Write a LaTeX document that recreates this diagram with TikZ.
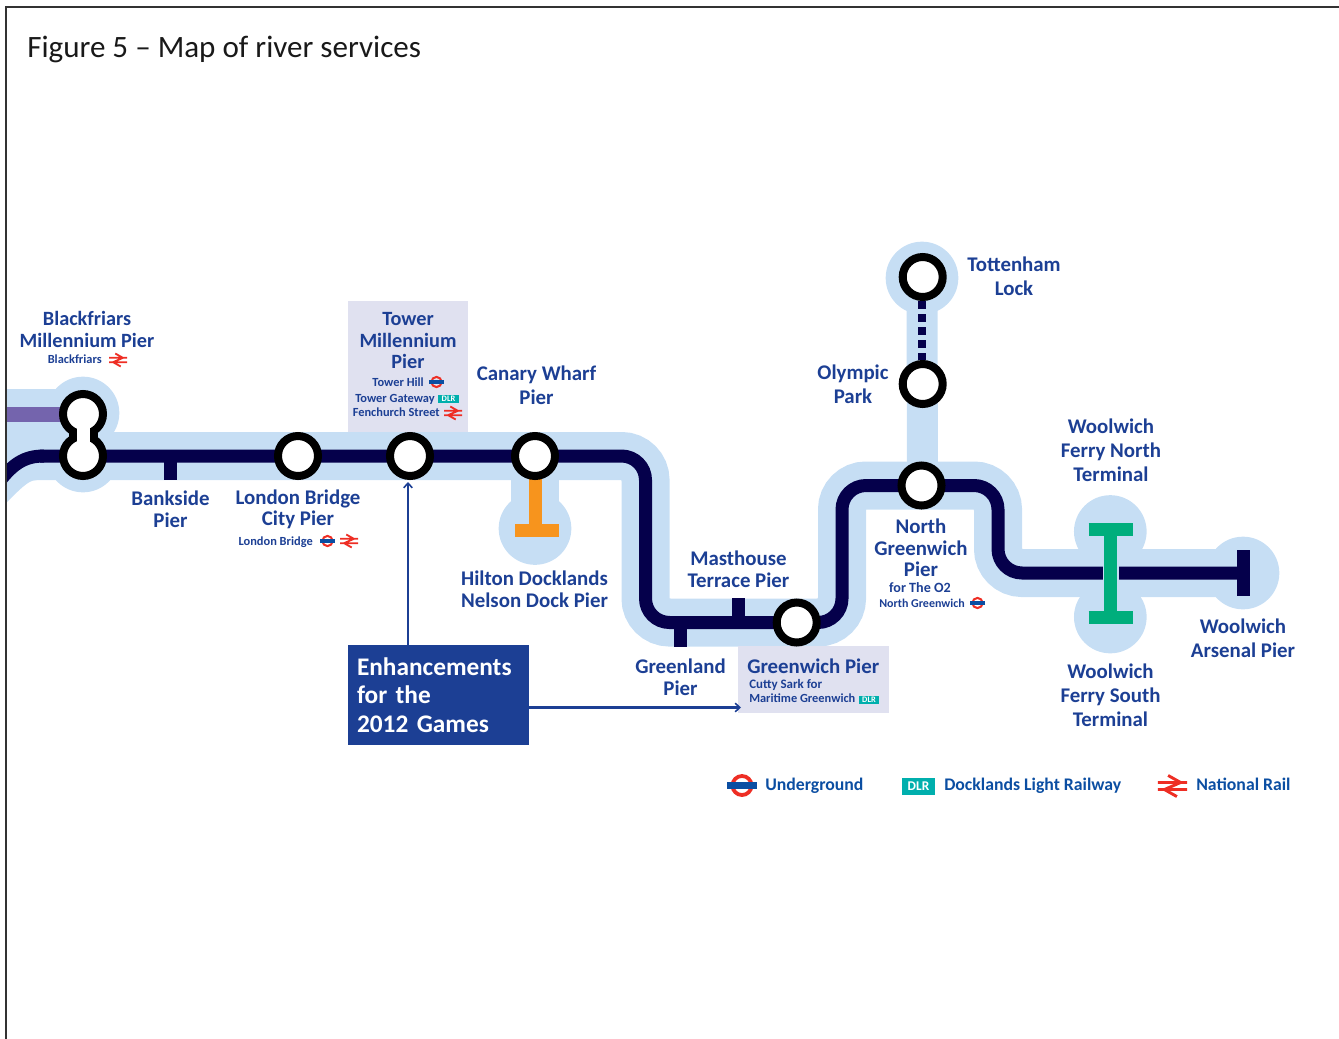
\documentclass[tikz,border=0pt]{standalone}
\usepackage{fontspec}
\setmainfont{Carlito}
\usetikzlibrary{arrows.meta}
\definecolor{pale}{HTML}{C6DEF4}
\definecolor{deep}{HTML}{05004B}
\definecolor{lilac}{HTML}{7464AD}
\definecolor{lav}{HTML}{E0E1F0}
\definecolor{ink}{HTML}{1C3F94}
\definecolor{railred}{HTML}{EE2E24}
\definecolor{tubeblue}{HTML}{0B4EA2}
\definecolor{dlrteal}{HTML}{00AFAD}
\definecolor{amber}{HTML}{F7941D}
\definecolor{jade}{HTML}{00AE7C}
\definecolor{framec}{HTML}{333333}
\tikzset{
  x=0.75pt,y=-0.75pt,
  band/.style={draw=pale,line width=36pt,rounded corners=18pt},
  route/.style={draw=deep,line width=9.75pt,rounded corners=18pt},
  halo/.style={circle,fill=pale,draw=none,minimum size=54.5pt,inner sep=0pt},
  ring/.style={circle,draw=black,fill=white,line width=6pt,minimum size=30pt,inner sep=0pt},
  lavbox/.style={rectangle,fill=lav,inner sep=0pt},
  lab/.style={align=center,text=ink,inner sep=0pt,font=\bfseries\fontsize{15.65}{16.2}\selectfont},
  labm/.style={align=center,text=ink,inner sep=0pt,font=\bfseries\fontsize{15.2}{16.2}\selectfont},
  labw/.style={align=center,text=ink,inner sep=0pt,font=\bfseries\fontsize{15.65}{18}\selectfont},
  sub/.style={text=ink,inner sep=0pt,font=\bfseries\fontsize{9.3}{10}\selectfont},
  leg/.style={text=tubeblue,inner sep=0pt,font=\bfseries\fontsize{13.3}{14}\selectfont},
  dlr/.style={rectangle,fill=dlrteal,text=white,inner sep=0pt,font=\bfseries\fontsize{6.3}{6.5}\selectfont,minimum width=15.5pt,minimum height=6.5pt},
  pointer/.style={draw=ink,line width=1.8pt,-{Straight Barb[length=3.5pt,width=6.5pt,line width=1.2pt]}},
  pics/roundel/.style={code={
    \draw[railred,line width=#1*0.33pt] (0,0) circle[radius=#1*0.83pt];
    \fill[tubeblue] (-#1*1.27pt,-#1*0.29pt) rectangle (#1*1.27pt,#1*0.29pt);
  }},
  pics/railmark/.style={code={
    \draw[railred,line width=#1*0.2pt,line join=miter]
      (-#1*1pt,#1*0.24pt)--(#1*1pt,#1*0.24pt)
      (-#1*1pt,-#1*0.24pt)--(#1*1pt,-#1*0.24pt)
      (-#1*0.3pt,#1*0.72pt)--(#1*0.55pt,#1*0.24pt)--(-#1*0.55pt,-#1*0.24pt)--(#1*0.3pt,-#1*0.72pt);
  }},
}
\begin{document}
\begin{tikzpicture}
\useasboundingbox (0,0) rectangle (1339,1039);
% named positions
\coordinate (bfAc) at (83,414);
\coordinate (bfBc) at (83,456);
\coordinate (bend1) at (645.5,456);
\coordinate (bend2) at (645.5,622.5);
\coordinate (bend3) at (842,622.5);
\coordinate (bend4) at (842,485.5);
\coordinate (bend5) at (998,485.5);
\coordinate (bend6) at (998,573);
\coordinate (arsenal) at (1243,573);
\coordinate (ferry) at (1110.7,573);
% pale bands
\fill[pale] (6,389)--(83,389)--(83,480)--(38,480) .. controls (30,480) and (26,483) .. (6,503)--cycle;
\node[halo] (haloBfA) at (83,413) {};
\node[halo] (haloBfB) at (83,456) {};
\draw[band] (bfBc)--(bend1)--(bend2)--(bend3)--(bend4)--(bend5)--(bend6)--(arsenal);
\node[halo] (haloCanary) at (535,528.5) {};
\draw[pale,line width=36pt] (535,456)--(haloCanary.center);
\node[halo] (haloTott) at (922,278) {};
\draw[pale,line width=23.25pt] (haloTott.center)--(922.5,486);
\node[halo] (haloFerryN) at (1110.3,531.5) {};
\node[halo] (haloFerryS) at (1110.3,617) {};
\node[halo] (haloArsenal) at (arsenal) {};
% lavender panels
\node[lavbox,minimum width=90pt,minimum height=98.25pt] (towerBox) at (408,366.5) {};
\node[lavbox,minimum width=113.25pt,minimum height=50.25pt] (greenwichBox) at (813.5,679.5) {};
% lines
\draw[lilac,line width=11.25pt] (6,414)--(bfAc);
\begin{scope}
\clip (6,400) rectangle (60,520);
\draw[deep,line width=9.75pt] (-4,486) .. controls (12,464) and (24,456) .. (44,456);
\end{scope}
\draw[route] (40,456)--(bend1)--(bend2)--(bend3)--(bend4)--(bend5)--(bend6)--(arsenal);
\draw[deep,line width=9.75pt] (170.5,456)--(170.5,480);
\draw[deep,line width=9.75pt] (738.5,622)--(738.5,598);
\draw[deep,line width=9.75pt] (680.5,622)--(680.5,646.5);
\draw[deep,line width=9.75pt] (1243,550)--(1243,596);
% Hilton T
\draw[amber,line width=9.75pt] (535,456)--(535,537);
\draw[amber,line width=9.75pt] (515,530.5)--(558.5,530.5);
% Woolwich ferry I
\draw[pale,line width=12pt] (1102.7,573)--(1118.7,573);
\draw[jade,line width=9.75pt] (1110.7,523)--(1110.7,624);
\draw[jade,line width=9.75pt] (1088.7,529.3)--(1132.7,529.3);
\draw[jade,line width=9.75pt] (1088.7,617.5)--(1132.7,617.5);
% dotted link
\node[ring] (olympic) at (922.7,384) {};
\node[ring] (tottenham) at (922.7,277) {};
\draw[deep,line width=6pt,dash pattern=on 6pt off 3.75pt,dash phase=0.5pt] (922,360)--(922,296);
% stations
\draw[black,line width=21.75pt] (bfAc)--(bfBc);
\node[ring] (bfA) at (bfAc) {};
\node[ring] (bfB) at (bfBc) {};
\draw[white,line width=9.75pt] (bfAc)--(bfBc);
\node[ring] (londonBridge) at (298,456) {};
\node[ring] (tower) at (410,456) {};
\node[ring] (canary) at (535,456) {};
\node[ring] (greenwich) at (796.7,622.5) {};
\node[ring] (northGreenwich) at (921.5,485.5) {};
% labels
\node[labm] (tBlack) at (87,329.5) {Blackfriars\\Millennium Pier};
\node[sub,anchor=mid east] (sBlack) at (102,360.5) {Blackfriars};
\pic at (118,360) {railmark=6.75};
\node[labm] (tTower) at (408,340.5) {Tower\\Millennium\\Pier};
\node[sub,anchor=mid east] (sHill) at (424,383.5) {Tower Hill};
\pic at (436.5,382) {roundel=4.6};
\node[sub,anchor=mid east] (sGate) at (435,399.5) {Tower Gateway};
\node[dlr] (dGate) at (448.5,399) {DLR};
\node[sub,anchor=mid east] (sFen) at (440,413.5) {Fenchurch Street};
\pic at (453,413) {railmark=6.75};
\node[labw] (tCanary) at (536.5,385) {Canary Wharf\\Pier};
\node[lab] (tBank) at (170.5,509.5) {Bankside\\Pier};
\node[lab] (tBridge) at (298,509.5) {London Bridge\\City Pier};
\node[sub,anchor=mid east] (sBridge) at (313,542.5) {London Bridge};
\pic at (327.5,541) {roundel=4.6};
\pic at (349,541) {railmark=6.75};
\node[lab] (tHilton) at (534.5,589) {Hilton Docklands\\Nelson Dock Pier};
\node[lab] (tMast) at (738.5,569.5) {Masthouse\\Terrace Pier};
\node[lab] (tGreenland) at (680.5,677) {Greenland\\Pier};
\node[lab,anchor=mid west] (tGreenwich) at (747,670) {Greenwich Pier};
\node[sub,anchor=mid west,font=\bfseries\fontsize{9.7}{10}\selectfont] (sCutty) at (749,685) {Cutty Sark for};
\node[sub,anchor=mid west] (sMar) at (749,699) {Maritime Greenwich};
\node[dlr] (dMar) at (869,700) {DLR};
\node[lab] (tNorth) at (921,548) {North\\Greenwich\\Pier};
\node[sub,anchor=mid,font=\bfseries\fontsize{10.6}{11}\selectfont] (sO2) at (920,589) {for The O2};
\node[sub,anchor=mid east,font=\bfseries\fontsize{9}{10}\selectfont] (sNorth) at (965,604) {North Greenwich};
\pic at (977.5,603) {roundel=4.6};
\node[labw] (tTott) at (1014,276) {Tottenham\\Lock};
\node[labw] (tOly) at (853,384) {Olympic\\Park};
\node[labw] (tFerryN) at (1111,450.5) {Woolwich\\Ferry North\\Terminal};
\node[labw] (tFerryS) at (1110.5,695.5) {Woolwich\\Ferry South\\Terminal};
\node[labw] (tArsenal) at (1243,638) {Woolwich\\Arsenal Pier};
% enhancements
\node[rectangle,fill=ink,text=white,inner sep=0pt,inner xsep=6.75pt,text width=122.25pt,minimum height=75pt,align=left,
  font=\bfseries\fontsize{19}{21.4}\selectfont] (enh) at (438.5,695) {Enhancements\\for the\\2012 Games};
\coordinate (tipTower) at (408,482);
\coordinate (tipGreenwich) at (741,707.5);
\draw[pointer] (enh.north -| tipTower)--(tipTower);
\draw[pointer] (enh.east |- tipGreenwich)--(tipGreenwich);
% legend
\pic at (742,785.5) {roundel=8.6};
\node[leg,anchor=mid west] (lUnder) at (765,787) {Underground};
\node[dlr,minimum width=24.75pt,minimum height=12.75pt,font=\bfseries\fontsize{10}{10.5}\selectfont] (lDlrBox) at (918.5,786) {DLR};
\node[leg,anchor=mid west] (lDlr) at (944,787) {Docklands Light Railway};
\pic at (1172.5,786) {railmark=11};
\node[leg,anchor=mid west] (lRail) at (1196,787) {National Rail};
% title
\node[anchor=mid west,inner sep=0pt,text=black!90,font=\fontsize{23.3}{26}\selectfont] (title) at (27,54) {Figure 5 – Map of river services};
% frame
\draw[framec,line width=0.9pt] (6,1039)--(6,7)--(1339,7);
\end{tikzpicture}
\end{document}
